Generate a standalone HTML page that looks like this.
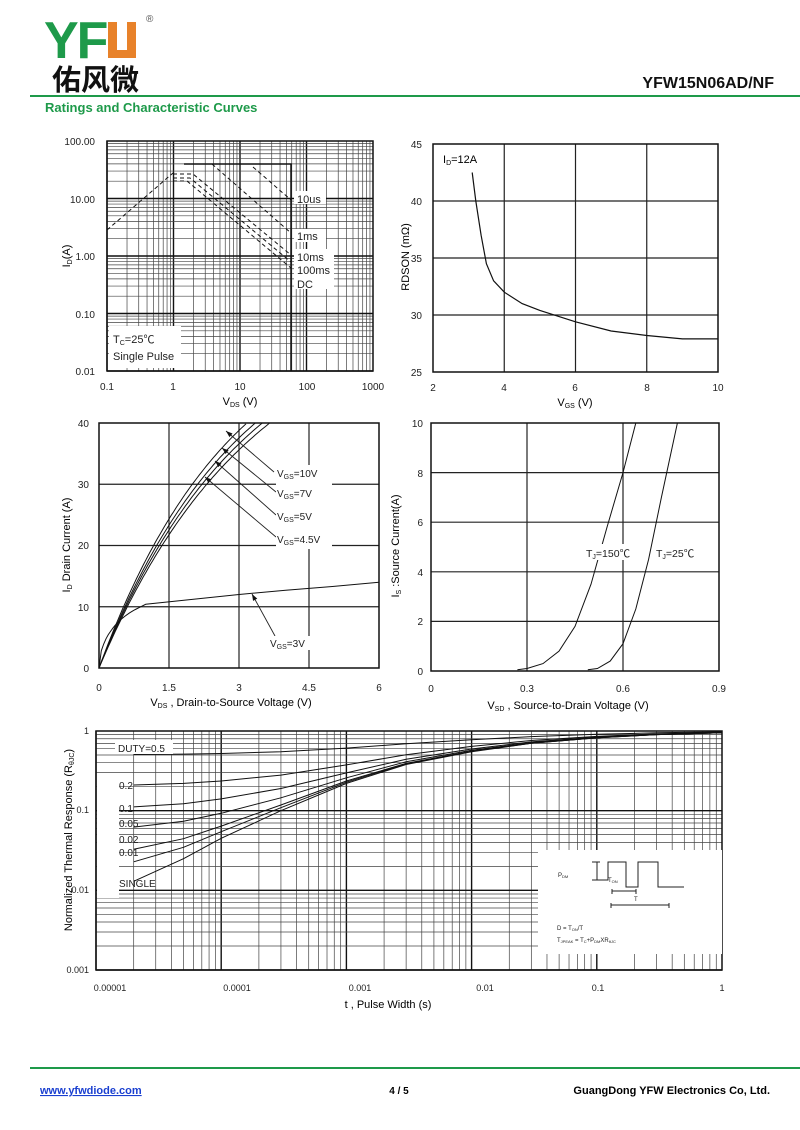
<!DOCTYPE html>
<html><head><meta charset="utf-8"><style>
body{margin:0;background:#fff;width:800px;height:1130px;overflow:hidden;font-family:"Liberation Sans","Noto Sans CJK SC",sans-serif}
svg{position:absolute;left:0;top:0}
</style></head><body>
<svg id="s" width="800" height="1130" viewBox="0 0 800 1130" font-family="Liberation Sans, Noto Sans CJK SC, sans-serif">
<!-- header -->
<text x="44" y="58" font-size="52" font-weight="bold" fill="#1e9a4a" letter-spacing="-2">YF</text>
<path d="M108 22h9v28h10v-28h9v36h-28z" fill="#e8822a"/>
<text x="146" y="22" font-size="10" fill="#555">®</text>
<text x="52" y="90" font-size="29" font-weight="bold" fill="#111" font-family="Noto Sans CJK SC, sans-serif">佑风微</text>
<text x="774" y="88" font-size="16" font-weight="bold" fill="#111" text-anchor="end">YFW15N06AD/NF</text>
<rect x="30" y="95" width="770" height="2" fill="#1e9a4a"/>
<text x="45" y="112" font-size="13" font-weight="bold" fill="#1e9a4a">Ratings and Characteristic Curves</text>
<g id="g"></g>
<!-- chart1 labels -->
<g font-size="10" fill="#222" text-anchor="end">
<text x="95" y="145">100.00</text><text x="95" y="203">10.00</text><text x="95" y="260">1.00</text><text x="95" y="318">0.10</text><text x="95" y="375">0.01</text>
</g>
<g font-size="10" fill="#222" text-anchor="middle">
<text x="107" y="390">0.1</text><text x="173" y="390">1</text><text x="240" y="390">10</text><text x="307" y="390">100</text><text x="373" y="390">1000</text>
</g>
<text x="240" y="405" font-size="11" text-anchor="middle">V<tspan font-size="7" dy="2">DS</tspan><tspan dy="-2"> (V)</tspan></text>
<text transform="translate(70,256) rotate(-90)" font-size="11" text-anchor="middle">I<tspan font-size="7" dy="2">D</tspan><tspan dy="-2">(A)</tspan></text>
<g font-size="11" fill="#222">
<rect x="294" y="191" width="32" height="13" fill="#fff"/><text x="297" y="203">10us</text>
<rect x="294" y="229" width="32" height="13" fill="#fff"/><text x="297" y="240">1ms</text>
<rect x="294" y="249" width="40" height="40" fill="#fff"/>
<text x="297" y="261">10ms</text><text x="297" y="274">100ms</text><text x="297" y="288">DC</text>
<rect x="109" y="326" width="72" height="42" fill="#fff"/>
<text x="113" y="343">T<tspan font-size="7" dy="2">C</tspan><tspan dy="-2">=25℃</tspan></text>
<text x="113" y="360">Single Pulse</text>
</g>
<!-- chart2 labels -->
<g font-size="10" fill="#222" text-anchor="end">
<text x="422" y="148">45</text><text x="422" y="205">40</text><text x="422" y="262">35</text><text x="422" y="319">30</text><text x="422" y="376">25</text>
</g>
<g font-size="10" fill="#222" text-anchor="middle">
<text x="433" y="391">2</text><text x="504" y="391">4</text><text x="575" y="391">6</text><text x="647" y="391">8</text><text x="718" y="391">10</text>
</g>
<text x="575" y="406" font-size="11" text-anchor="middle">V<tspan font-size="7" dy="2">GS</tspan><tspan dy="-2"> (V)</tspan></text>
<text transform="translate(409,257) rotate(-90)" font-size="11" text-anchor="middle">RDSON (mΩ)</text>
<text x="443" y="163" font-size="11">I<tspan font-size="7" dy="2">D</tspan><tspan dy="-2">=12A</tspan></text>
<!-- chart3 labels -->
<g font-size="10" fill="#222" text-anchor="end">
<text x="89" y="427">40</text><text x="89" y="488">30</text><text x="89" y="549">20</text><text x="89" y="611">10</text><text x="89" y="672">0</text>
</g>
<g font-size="10" fill="#222" text-anchor="middle">
<text x="99" y="691">0</text><text x="169" y="691">1.5</text><text x="239" y="691">3</text><text x="309" y="691">4.5</text><text x="379" y="691">6</text>
</g>
<text x="231" y="706" font-size="11" text-anchor="middle">V<tspan font-size="7" dy="2">DS</tspan><tspan dy="-2"> , Drain-to-Source Voltage (V)</tspan></text>
<text transform="translate(70,545) rotate(-90)" font-size="11" text-anchor="middle">I<tspan font-size="7" dy="2">D</tspan><tspan dy="-2"> Drain Current (A)</tspan></text>
<g font-size="10" fill="#222">
<rect x="276" y="465" width="56" height="84" fill="#fff"/>
<text x="277" y="477">V<tspan font-size="7" dy="2">GS</tspan><tspan dy="-2">=10V</tspan></text>
<text x="277" y="497">V<tspan font-size="7" dy="2">GS</tspan><tspan dy="-2">=7V</tspan></text>
<text x="277" y="520">V<tspan font-size="7" dy="2">GS</tspan><tspan dy="-2">=5V</tspan></text>
<text x="277" y="543">V<tspan font-size="7" dy="2">GS</tspan><tspan dy="-2">=4.5V</tspan></text>
<rect x="268" y="636" width="48" height="14" fill="#fff"/>
<text x="270" y="647">V<tspan font-size="7" dy="2">GS</tspan><tspan dy="-2">=3V</tspan></text>
</g>
<!-- chart4 labels -->
<g font-size="10" fill="#222" text-anchor="end">
<text x="423" y="427">10</text><text x="423" y="477">8</text><text x="423" y="526">6</text><text x="423" y="576">4</text><text x="423" y="625">2</text><text x="423" y="675">0</text>
</g>
<g font-size="10" fill="#222" text-anchor="middle">
<text x="431" y="692">0</text><text x="527" y="692">0.3</text><text x="623" y="692">0.6</text><text x="719" y="692">0.9</text>
</g>
<text x="568" y="709" font-size="11" text-anchor="middle">V<tspan font-size="7" dy="2">SD</tspan><tspan dy="-2"> , Source-to-Drain Voltage (V)</tspan></text>
<text transform="translate(399,546) rotate(-90)" font-size="11" text-anchor="middle">I<tspan font-size="7" dy="2">S</tspan><tspan dy="-2"> :Source Current(A)</tspan></text>
<g font-size="10.5" fill="#222">
<rect x="584" y="544" width="50" height="16" fill="#fff"/>
<text x="586" y="557">T<tspan font-size="7" dy="2">J</tspan><tspan dy="-2">=150℃</tspan></text>
<text x="656" y="557">T<tspan font-size="7" dy="2">J</tspan><tspan dy="-2">=25℃</tspan></text>
</g>
<!-- chart5 labels -->
<g font-size="9" fill="#222" text-anchor="end">
<text x="89" y="734">1</text><text x="89" y="813">0.1</text><text x="89" y="893">0.01</text><text x="89" y="973">0.001</text>
</g>
<g font-size="9" fill="#222" text-anchor="middle">
<text x="110" y="991">0.00001</text><text x="237" y="991">0.0001</text><text x="360" y="991">0.001</text><text x="485" y="991">0.01</text><text x="598" y="991">0.1</text><text x="722" y="991">1</text>
</g>
<text x="388" y="1008" font-size="11" text-anchor="middle">t , Pulse Width (s)</text>
<text transform="translate(72,840) rotate(-90)" font-size="11" text-anchor="middle">Normalized Thermal Response (R<tspan font-size="7" dy="2">θJC</tspan><tspan dy="-2">)</tspan></text>
<g font-size="10" fill="#222">
<rect x="115" y="740" width="58" height="14" fill="#fff"/><text x="118" y="752">DUTY=0.5</text>
<rect x="97" y="778" width="22" height="120" fill="#fff"/>
<text x="119" y="789">0.2</text><text x="119" y="812">0.1</text><text x="119" y="827">0.05</text><text x="119" y="843">0.02</text><text x="119" y="856">0.01</text><text x="119" y="887">SINGLE</text>
</g>
<rect x="538" y="850" width="184" height="104" fill="#fff"/>
<g fill="none" stroke="#222" stroke-width="1">
<path d="M596 880h12v-18h18v25h12v-25h20v25h26"/>
<path d="M592 862h8M592 880h8M597 862v18"/>
<path d="M612 889v5M612 891h24M636 889v5M611 903v5M611 905h58M669 903v5"/>
</g>
<g font-size="6" fill="#222">
<text x="558" y="877">P<tspan font-size="4" dy="1">DM</tspan></text>
<text x="608" y="882">T<tspan font-size="4" dy="1">ON</tspan></text>
<text x="634" y="901">T</text>
<text x="557" y="930">D = T<tspan font-size="4" dy="1">ON</tspan><tspan dy="-1">/T</tspan></text>
<text x="557" y="942">T<tspan font-size="4" dy="1">JPEAK</tspan><tspan dy="-1"> = T</tspan><tspan font-size="4" dy="1">C</tspan><tspan dy="-1">+P</tspan><tspan font-size="4" dy="1">DM</tspan><tspan dy="-1">XR</tspan><tspan font-size="4" dy="1">θJC</tspan></text>
</g>
<!-- footer -->
<rect x="30" y="1067" width="770" height="2" fill="#1e9a4a"/>
<text x="40" y="1094" font-size="11" font-weight="bold" fill="#1a3fd0" text-decoration="underline">www.yfwdiode.com</text>
<text x="399" y="1094" font-size="10" font-weight="bold" text-anchor="middle">4 / 5</text>
<text x="770" y="1094" font-size="11" font-weight="bold" text-anchor="end">GuangDong YFW Electronics Co, Ltd.</text>
</svg>
<script>
var NS="http://www.w3.org/2000/svg",G=document.getElementById("g");
function el(t,a){var e=document.createElementNS(NS,t);for(var k in a)e.setAttribute(k,a[k]);G.appendChild(e);return e;}
function ln(x1,y1,x2,y2,w,c){el("line",{x1:x1,y1:y1,x2:x2,y2:y2,stroke:c||"#222","stroke-width":w||0.8});}
function pl(pts,w,dash){el("polyline",{points:pts.map(function(p){return p[0].toFixed(1)+","+p[1].toFixed(1)}).join(" "),fill:"none",stroke:"#111","stroke-width":w||1,"stroke-dasharray":dash||"none"});}
function logGrid(x0,x1,y0,y1,nx,ny){
 var dx=(x1-x0)/nx,dy=(y1-y0)/ny;
 for(var i=0;i<nx;i++)for(var m=1;m<10;m++){var x=x0+dx*(i+Math.log10(m));ln(x,y0,x,y1,m==1?1.4:0.7,m==1?"#111":"#444");}
 for(var j=0;j<ny;j++)for(var m=1;m<10;m++){var y=y1-dy*(j+Math.log10(m));ln(x0,y,x1,y,m==1?1.4:0.7,m==1?"#111":"#444");}
 el("rect",{x:x0,y:y0,width:x1-x0,height:y1-y0,fill:"none",stroke:"#111","stroke-width":1.5});
}
function linGrid(x0,x1,y0,y1,nx,ny){
 for(var i=1;i<nx;i++){var x=x0+(x1-x0)*i/nx;ln(x,y0,x,y1,1.2);}
 for(var j=1;j<ny;j++){var y=y0+(y1-y0)*j/ny;ln(x0,y,x1,y,1.2);}
 el("rect",{x:x0,y:y0,width:x1-x0,height:y1-y0,fill:"none",stroke:"#111","stroke-width":1.5});
}
// chart1
logGrid(107,373,141,371,4,4);
pl([[107,230],[173,173]],1,"4,3");
pl([[184,164],[291,164],[291,371]],1.5);
pl([[212,164],[291,233]],1,"4,3");
pl([[253,167],[291,200]],1,"4,3");
pl([[173,174],[193,174],[291,255]],1,"4,3");
pl([[173,178],[190,178],[291,262]],1,"4,3");
pl([[173,181],[187,181],[291,268]],1,"4,3");
// chart2
linGrid(433,718,144,372,4,4);
(function(){var d=[[3.1,42.5],[3.2,40],[3.35,37],[3.5,34.5],[3.7,33],[4,32],[4.5,31],[5,30.4],[6,29.4],[7,28.6],[8,28.2],[9,27.9],[10,27.9]];
pl(d.map(function(p){return[433+35.625*(p[0]-2),372-11.4*(p[1]-25)]}),1.2);})();
// chart3
linGrid(99,379,423,668,4,4);
[3.17,3.35,3.5,3.66].forEach(function(ve){var c=2.885*ve/3.17,pts=[];for(var v=0;v<=ve+0.001;v+=0.05){var I=60*(1-Math.exp(-v/c));pts.push([99+46.67*v,668-6.125*Math.min(I,40)]);}pl(pts,1);});
(function(){var pts=[];for(var v=0;v<=0.9;v+=0.05){pts.push([99+46.67*v,668-6.125*10*Math.sqrt(v/0.9)*(1.2-0.2*v/0.9)/1]);}
[[1,10.4],[2,11.2],[3,12],[4,12.7],[5,13.3],[6,14]].forEach(function(p){pts.push([99+46.67*p[0],668-6.125*p[1]]);});pl(pts,1);})();
function arrow(x1,y1,x2,y2){ln(x1,y1,x2,y2,0.9);var a=Math.atan2(y2-y1,x2-x1),L=7;
 el("polygon",{points:x2+","+y2+" "+(x2-L*Math.cos(a-0.35))+","+(y2-L*Math.sin(a-0.35))+" "+(x2-L*Math.cos(a+0.35))+","+(y2-L*Math.sin(a+0.35)),fill:"#111"});}
arrow(274,472,226,431);arrow(276,492,222,448);arrow(276,515,215,461);arrow(276,537,205,477);arrow(275,636,252,594);
// chart4
linGrid(431,719,423,671,3,5);
[[[0.27,0.05],[0.3,0.1],[0.35,0.3],[0.4,0.8],[0.45,1.8],[0.5,3.5],[0.55,5.8],[0.6,8],[0.64,10]],
 [[0.49,0.05],[0.52,0.1],[0.56,0.4],[0.6,1.1],[0.64,2.5],[0.68,4.5],[0.72,7],[0.77,10]]].forEach(function(d){
 pl(d.map(function(p){return[431+320*p[0],671-24.8*p[1]]}),1);});
// chart5
logGrid(96,722,731,970,5,3);
(function(){var S=[[2e-5,0.013],[5e-5,0.025],[1e-4,0.045],[3e-4,0.1],[1e-3,0.22],[3e-3,0.38],[0.01,0.55],[0.03,0.7],[0.1,0.82],[0.3,0.9],[1,0.95]];
function X(t){return 96+125.2*Math.log10(t/1e-5);}function Y(r){return 731+79.7*Math.log10(1/r);}
[0.5,0.2,0.1,0.05,0.02,0.01].forEach(function(D){pl(S.map(function(p){return[X(p[0]),Y(D+(1-D)*p[1])]}),1);});
pl(S.map(function(p){return[X(p[0]),Y(p[1])]}),1);})();
</script>
</body></html>
